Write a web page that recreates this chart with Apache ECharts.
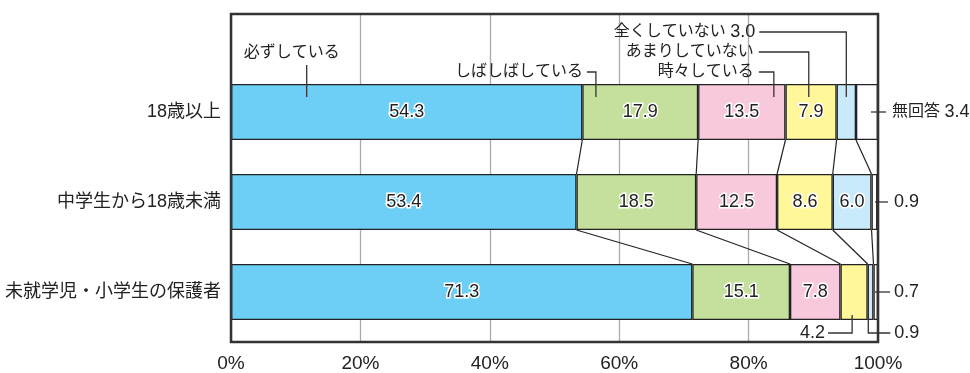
<!DOCTYPE html>
<html>
<head>
<meta charset="utf-8">
<script src="https://cdn.jsdelivr.net/npm/echarts@6/dist/echarts.min.js"></script>
<style>html,body{margin:0;padding:0;background:#fff;}#c{width:970px;height:373px;}</style>
</head>
<body>
<div id="c"></div>
<script>
// ---- data ----
const categories = ['18歳以上', '中学生から18歳未満', '未就学児・小学生の保護者'];
const seriesNames = ['必ずしている', 'しばしばしている', '時々している', 'あまりしていない', '全くしていない', '無回答'];
const always    = [54.3, 53.4, 71.3];
const often     = [17.9, 18.5, 15.1];
const sometimes = [13.5, 12.5, 7.8];
const rarely    = [7.9, 8.6, 4.2];
const never     = [3.0, 6.0, 0.9];
const noAnswer  = [3.4, 0.9, 0.7];
const xTicks = [0, 20, 40, 60, 80, 100];

const values = [always, often, sometimes, rarely, never, noAnswer];
const colors = ['#6dcff6', '#c5df9c', '#f8c9dc', '#fff799', '#c8eafa', '#ffffff'];
// segments whose value is written outside the bar (series index -> category indices)
const outsideLabels = {3: [2], 4: [0, 2], 5: [0, 1, 2]};
const BAR_H = 56;
const FONT = '"Liberation Sans", "Noto Sans CJK JP", sans-serif';

// cumulative boundaries
const cum = categories.map((c, k) => {
  const arr = [0];
  values.forEach(v => arr.push(arr[arr.length - 1] + v[k]));
  return arr;
});

const jp = s => '{j|' + s + '}';
const num = v => '{n|' + v.toFixed(1) + '}';

// annotation layout (anchor in axis units, offsets in px)
const annotations = [
  {text: () => jp(seriesNames[0]), cat: 0, x: 11.7, edge: 'top', path: [[0, 13], [0, -19]], dx: -15, dy: -31, align: 'center'},
  {text: () => jp(seriesNames[1]), cat: 0, x: 56.4, edge: 'top', path: [[0, 13], [0, -12], [-9, -12]], dx: -13, dy: -12, align: 'right'},
  {text: () => jp(seriesNames[2]), cat: 0, x: 83.9, edge: 'top', path: [[0, 13], [0, -12], [-15, -12]], dx: -20, dy: -12, align: 'right'},
  {text: () => jp(seriesNames[3]), cat: 0, x: 89.3, edge: 'top', path: [[0, 13], [0, -32], [-50, -32]], dx: -55, dy: -32, align: 'right'},
  {text: () => jp(seriesNames[4] + ' ') + num(never[0]), cat: 0, x: 95.1, edge: 'top', path: [[0, 13], [0, -52], [-87, -52]], dx: -91, dy: -52, align: 'right'},
  {text: () => jp(seriesNames[5] + ' ') + num(noAnswer[0]), cat: 0, x: 100, edge: 'center', path: [[-7, 0], [8, 0]], dx: 14, dy: 0, align: 'left'},
  {text: () => num(noAnswer[1]), cat: 1, x: 100, edge: 'center', path: [[-3, 0], [10, 0]], dx: 16, dy: 0, align: 'left'},
  {text: () => num(noAnswer[2]), cat: 2, x: 100, edge: 'center', path: [[-3, 0], [12, 0]], dx: 16, dy: 0, align: 'left'},
  {text: () => num(never[2]), cat: 2, x: 98.5, edge: 'bottom', path: [[0, -5], [0, 13], [22, 13]], dx: 26, dy: 13, align: 'left'},
  {text: () => num(rarely[2]), cat: 2, x: 96.0, edge: 'bottom', path: [[0, -5], [0, 13], [-24, 13]], dx: -27, dy: 13, align: 'right'}
];

// connector data
const connectors = [];
for (let k = 0; k < categories.length - 1; k++) {
  for (let i = 1; i <= 5; i++) connectors.push([cum[k][i], k, cum[k + 1][i], k + 1]);
}

const barSeries = values.map((v, s) => ({
  name: seriesNames[s],
  type: 'bar',
  stack: 'total',
  xAxisIndex: 1,
  yAxisIndex: 1,
  barWidth: BAR_H,
  itemStyle: {color: colors[s], borderColor: '#222', borderWidth: 1.3},
  label: {
    show: true, position: 'inside', color: '#222', fontSize: 18, fontFamily: FONT,
    textBorderColor: '#fff', textBorderWidth: 3,
    formatter: p => p.value.toFixed(1)
  },
  data: v.map((val, k) => (outsideLabels[s] && outsideLabels[s].includes(k)) ? {value: val, label: {show: false}} : val),
  z: 3
}));

const chart = echarts.init(document.getElementById('c'), null, {renderer: 'canvas'});
chart.setOption({
  animation: false,
  backgroundColor: '#fff',
  grid: [
    {left: 231, right: 92, top: 14, bottom: 30, show: true, borderColor: '#333', borderWidth: 2.5, backgroundColor: 'transparent', z: 5},
    {left: 231, right: 92, top: 67, bottom: 36}
  ],
  xAxis: [
    {type: 'value', gridIndex: 0, min: 0, max: 100, interval: 20,
     axisLine: {show: false}, axisTick: {show: false},
     splitLine: {show: true, lineStyle: {color: '#aaa', width: 1.3}},
     axisLabel: {formatter: '{value}%', fontSize: 19, color: '#222', fontFamily: FONT, margin: 12,
       customValues: xTicks}},
    {type: 'value', gridIndex: 1, min: 0, max: 100, show: false}
  ],
  yAxis: [
    {type: 'value', gridIndex: 0, min: 0, max: 1, show: false},
    {type: 'category', gridIndex: 1, data: categories, inverse: true,
     axisLine: {show: false}, axisTick: {show: false},
     axisLabel: {fontSize: 18, color: '#222', fontFamily: FONT, margin: 10}}
  ],
  series: barSeries.concat([
    {
      type: 'custom', xAxisIndex: 1, yAxisIndex: 1, clip: false, z: 4, silent: true,
      data: connectors,
      renderItem: (params, api) => {
        const p1 = api.coord([api.value(0), api.value(1)]);
        const p2 = api.coord([api.value(2), api.value(3)]);
        return {type: 'line', shape: {x1: p1[0], y1: p1[1] + BAR_H / 2, x2: p2[0], y2: p2[1] - BAR_H / 2},
                style: {stroke: '#222', lineWidth: 1.2}};
      }
    },
    {
      type: 'custom', xAxisIndex: 1, yAxisIndex: 1, clip: false, z: 6, silent: true,
      data: annotations.map(a => [a.x, a.cat]),
      renderItem: (params, api) => {
        const a = annotations[params.dataIndex];
        const p = api.coord([api.value(0), api.value(1)]);
        const baseY = a.edge === 'top' ? p[1] - BAR_H / 2 : a.edge === 'bottom' ? p[1] + BAR_H / 2 : p[1];
        const pts = a.path.map(q => [p[0] + q[0], baseY + q[1]]);
        return {type: 'group', children: [
          {type: 'polyline', shape: {points: pts}, style: {stroke: '#333', lineWidth: 1.3, fill: null}},
          {type: 'text', style: {text: a.text(), x: p[0] + a.dx, y: baseY + a.dy,
            textAlign: a.align, textVerticalAlign: 'middle', align: a.align, verticalAlign: 'middle',
            fill: '#222', font: '16px ' + FONT,
            rich: {
              j: {fontSize: 16, fontFamily: FONT, fill: '#222', color: '#222'},
              n: {fontSize: 18, fontFamily: FONT, fill: '#222', color: '#222'}
            }}}
        ]};
      }
    }
  ])
});
</script>
</body>
</html>
